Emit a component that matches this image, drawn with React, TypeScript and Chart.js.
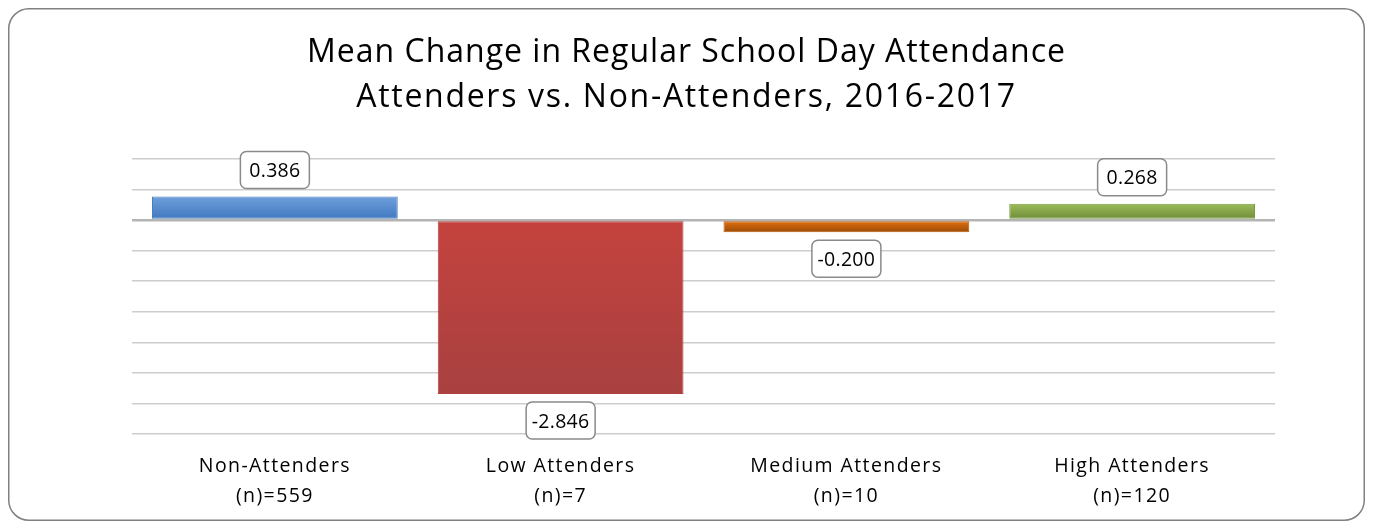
import React, { useEffect, useRef } from "react";
import { Chart, registerables } from "chart.js";

Chart.register(...registerables);

const TITLE_LINES = [
  "Mean Change in Regular School Day Attendance",
  "Attenders vs. Non-Attenders, 2016-2017",
];
const CATEGORY_NAMES = ["Non-Attenders", "Low Attenders", "Medium Attenders", "High Attenders"];
const CATEGORY_COUNTS = ["(n)=559", "(n)=7", "(n)=10", "(n)=120"];
const MEAN_CHANGE = [0.386, -2.846, -0.2, 0.268];
const VALUE_LABELS = ["0.386", "-2.846", "-0.200", "0.268"];
const BAR_TOP_COLORS = ["#6fa0dd", "#c4423e", "#e6730f", "#9cbc5a"];
const BAR_BOTTOM_COLORS = ["#3f76bd", "#a84140", "#9c4a08", "#6c8935"];
const BAR_BORDER_COLORS = ["#4a7ebb", "#b13f3c", "#b85a0c", "#7a9a3e"];
const Y_MIN = -3.5;
const Y_MAX = 1;
const Y_STEP = 0.5;

const FONT = "'Open Sans', Lato, sans-serif";

const borderPlugin = {
  id: "roundBorder",
  beforeDraw(chart: any) {
    const { ctx, width, height } = chart;
    ctx.save();
    ctx.fillStyle = "#ffffff";
    ctx.strokeStyle = "#808080";
    ctx.lineWidth = 1.5;
    const x = 0.75, y = 0.75, w = width - 1.5, h = height - 1.5, r = 20;
    ctx.beginPath();
    ctx.moveTo(x + r, y);
    ctx.lineTo(x + w - r, y);
    ctx.arcTo(x + w, y, x + w, y + r, r);
    ctx.lineTo(x + w, y + h - r);
    ctx.arcTo(x + w, y + h, x + w - r, y + h, r);
    ctx.lineTo(x + r, y + h);
    ctx.arcTo(x, y + h, x, y + h - r, r);
    ctx.lineTo(x, y + r);
    ctx.arcTo(x, y, x + r, y, r);
    ctx.closePath();
    ctx.fill();
    ctx.stroke();

    // title, centred across the whole frame
    ctx.fillStyle = "#000000";
    ctx.font = `32px ${FONT}`;
    ctx.textAlign = "center";
    ctx.textBaseline = "alphabetic";
    (ctx as any).letterSpacing = "1px";
    ctx.fillText(TITLE_LINES[0], width / 2, 54);
    (ctx as any).letterSpacing = "1.7px";
    ctx.fillText(TITLE_LINES[1], width / 2, 99);
    ctx.restore();
    // letter spacing for the axis tick labels drawn next
    (ctx as any).letterSpacing = "1.4px";
  },
  afterDatasetsDraw(chart: any) {
    (chart.ctx as any).letterSpacing = "0px";
  },
};

const valueLabelPlugin = {
  id: "valueLabels",
  afterDatasetsDraw(chart: any) {
    const { ctx } = chart;
    const meta = chart.getDatasetMeta(0);
    ctx.save();
    ctx.font = `19.5px ${FONT}`;
    (ctx as any).letterSpacing = "0.3px";
    ctx.textAlign = "center";
    ctx.textBaseline = "alphabetic";
    meta.data.forEach((bar: any, i: number) => {
      const v = MEAN_CHANGE[i];
      const bw = 69, bh = 37, r = 6;
      const cy = v >= 0 ? bar.y - 8 - bh / 2 : bar.y + 8 + bh / 2;
      const x = bar.x - bw / 2, y = cy - bh / 2;
      ctx.beginPath();
      ctx.moveTo(x + r, y);
      ctx.lineTo(x + bw - r, y);
      ctx.arcTo(x + bw, y, x + bw, y + r, r);
      ctx.lineTo(x + bw, y + bh - r);
      ctx.arcTo(x + bw, y + bh, x + bw - r, y + bh, r);
      ctx.lineTo(x + r, y + bh);
      ctx.arcTo(x, y + bh, x, y + bh - r, r);
      ctx.lineTo(x, y + r);
      ctx.arcTo(x, y, x + r, y, r);
      ctx.closePath();
      ctx.fillStyle = "#ffffff";
      ctx.fill();
      ctx.lineWidth = 1.5;
      ctx.strokeStyle = "#8a8a8a";
      ctx.stroke();
      ctx.fillStyle = "#000000";
      ctx.fillText(VALUE_LABELS[i], bar.x, cy + 7);
    });
    ctx.restore();
  },
};

export default function App() {
  const canvasRef = useRef<HTMLCanvasElement | null>(null);

  useEffect(() => {
    if (!canvasRef.current) return;
    const labels = CATEGORY_NAMES.map((n, i) => [n, CATEGORY_COUNTS[i]]);
    const chart = new Chart(canvasRef.current, {
      type: "bar",
      data: {
        labels,
        datasets: [
          {
            data: MEAN_CHANGE,
            backgroundColor: (c: any) => {
              const chart = c.chart;
              const i = c.dataIndex;
              const ys = chart.scales && chart.scales.y;
              if (!ys || i === undefined) return BAR_TOP_COLORS[i ?? 0];
              const p0 = ys.getPixelForValue(0);
              const p1 = ys.getPixelForValue(MEAN_CHANGE[i]);
              const top = Math.min(p0, p1), bot = Math.max(p0, p1);
              if (!isFinite(top) || !isFinite(bot) || bot - top < 1) return BAR_TOP_COLORS[i];
              const g = chart.ctx.createLinearGradient(0, top, 0, bot);
              g.addColorStop(0, BAR_TOP_COLORS[i]);
              g.addColorStop(1, BAR_BOTTOM_COLORS[i]);
              return g;
            },
            borderColor: BAR_BORDER_COLORS,
            borderWidth: 1,
            borderSkipped: false,
            barPercentage: 0.86,
            categoryPercentage: 1,
          },
        ],
      },
      options: {
        animation: false,
        responsive: true,
        maintainAspectRatio: false,
        layout: { padding: { left: 124, right: 90, top: 151, bottom: 0 } },
        plugins: {
          legend: { display: false },
          tooltip: { enabled: false },
          title: { display: false },
        },
        scales: {
          x: {
            grid: { display: false },
            border: { display: false },
            ticks: {
              color: "#000000",
              font: { family: FONT, size: 19.5, lineHeight: "29.5px" as any },
              padding: 10,
              maxRotation: 0,
              autoSkip: false,
            },
            afterFit: (s: any) => {
              s.height = 87;
            },
          },
          y: {
            min: Y_MIN,
            max: Y_MAX,
            ticks: { display: false, stepSize: Y_STEP },
            border: { display: false },
            grid: {
              drawTicks: false,
              color: (c: any) => (c.tick && c.tick.value === 0 ? "#b4b4b4" : "#cdcdcd"),
              lineWidth: (c: any) => (c.tick && c.tick.value === 0 ? 2.5 : 1.5),
            },
            afterFit: (s: any) => {
              s.width = 0;
            },
          },
        },
      },
      plugins: [borderPlugin, valueLabelPlugin],
    });
    return () => chart.destroy();
  }, []);

  return (
    <div style={{ width: 1357, height: 513, position: "relative" }}>
      <canvas ref={canvasRef} />
    </div>
  );
}
